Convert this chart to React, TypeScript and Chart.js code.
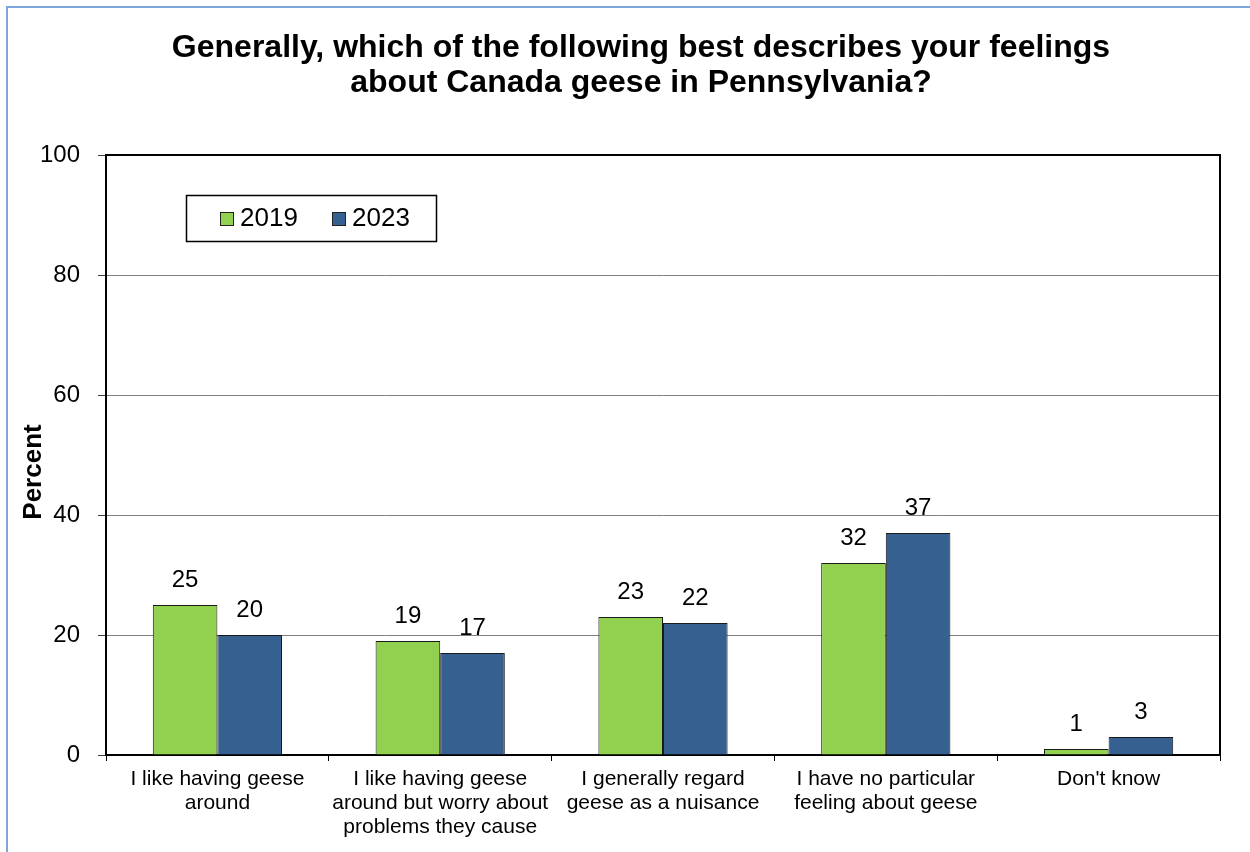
import React, { useEffect, useRef } from "react";
import { Chart, registerables } from "chart.js";

Chart.register(...registerables);

const TITLE_LINES = [
  "Generally, which of the following best describes your feelings",
  "about Canada geese in Pennsylvania?",
];
const Y_TITLE = "Percent";
const CATEGORIES: string[][] = [
  ["I like having geese", "around"],
  ["I like having geese", "around but worry about", "problems they cause"],
  ["I generally regard", "geese as a nuisance"],
  ["I have no particular", "feeling about geese"],
  ["Don't know"],
];
const SERIES_LABELS = ["2019", "2023"];
const VALUES_2019 = [25, 19, 23, 32, 1];
const VALUES_2023 = [20, 17, 22, 37, 3];
const Y_MIN = 0;
const Y_MAX = 100;
const Y_STEP = 20;

const GREEN = "#92D050";
const BLUE = "#36608F";
const FONT = '"Liberation Sans", Arial, sans-serif';

const decorPlugin = {
  id: "decor",
  afterDraw(chart: any) {
    const { ctx, chartArea } = chart;
    ctx.save();
    // plot border (top/right)
    ctx.strokeStyle = "#000";
    ctx.lineWidth = 2;
    ctx.beginPath();
    ctx.moveTo(chartArea.left, chartArea.top);
    ctx.lineTo(chartArea.right, chartArea.top);
    ctx.lineTo(chartArea.right, chartArea.bottom);
    ctx.stroke();

    // title
    ctx.fillStyle = "#000";
    ctx.font = `bold 32px ${FONT}`;
    ctx.textAlign = "center";
    ctx.textBaseline = "alphabetic";
    TITLE_LINES.forEach((t, i) => ctx.fillText(t, 641, 57 + i * 35));

    // y title
    ctx.save();
    ctx.translate(41, 472);
    ctx.rotate(-Math.PI / 2);
    ctx.font = `bold 26px ${FONT}`;
    ctx.textAlign = "center";
    ctx.textBaseline = "alphabetic";
    ctx.fillText(Y_TITLE, 0, 0);
    ctx.restore();

    // data labels
    ctx.font = `24px ${FONT}`;
    ctx.textAlign = "center";
    ctx.textBaseline = "alphabetic";
    chart.data.datasets.forEach((ds: any, di: number) => {
      const meta = chart.getDatasetMeta(di);
      meta.data.forEach((el: any, i: number) => {
        ctx.fillText(String(ds.data[i]), el.x, el.y - 18);
      });
    });

    // legend
    const bx = 186, by = 195, bw = 250, bh = 46;
    ctx.fillStyle = "#fff";
    ctx.fillRect(bx, by, bw, bh);
    ctx.strokeStyle = "#000";
    ctx.lineWidth = 1.5;
    ctx.strokeRect(bx + 0.5, by + 0.5, bw, bh);
    const xs = [220, 332];
    ctx.font = `26px ${FONT}`;
    ctx.textAlign = "left";
    ctx.textBaseline = "middle";
    chart.data.datasets.forEach((ds: any, di: number) => {
      const x = xs[di];
      ctx.fillStyle = ds.backgroundColor;
      ctx.fillRect(x, 212, 13, 13);
      ctx.strokeStyle = "#222";
      ctx.lineWidth = 1;
      ctx.strokeRect(x + 0.5, 212.5, 13, 13);
      ctx.fillStyle = "#000";
      ctx.fillText(ds.label, x + 20, 219);
    });
    ctx.restore();
  },
};

export default function App() {
  const ref = useRef<HTMLCanvasElement>(null);
  useEffect(() => {
    const chart = new Chart(ref.current as HTMLCanvasElement, {
      type: "bar",
      data: {
        labels: CATEGORIES,
        datasets: [
          {
            label: SERIES_LABELS[0],
            data: VALUES_2019,
            backgroundColor: GREEN,
            borderColor: "#1a1a1a",
            borderWidth: 1,
          },
          {
            label: SERIES_LABELS[1],
            data: VALUES_2023,
            backgroundColor: BLUE,
            borderColor: "#1a1a1a",
            borderWidth: 1,
          },
        ],
      },
      options: {
        responsive: false,
        animation: false,
        devicePixelRatio: 1,
        layout: { padding: { top: 155, right: 30, bottom: 0, left: 0 } },
        datasets: { bar: { categoryPercentage: 0.58, barPercentage: 1 } },
        plugins: {
          legend: { display: false },
          title: { display: false },
          tooltip: { enabled: false },
        },
        scales: {
          x: {
            afterFit: (s: any) => {
              s.height = 97;
            },
            grid: {
              display: true,
              drawOnChartArea: false,
              drawTicks: true,
              tickLength: 6,
              color: "#000",
              offset: true,
            },
            border: { display: true, color: "#000", width: 2 },
            ticks: {
              color: "#000",
              font: { family: FONT, size: 21, lineHeight: 1.15 },
              maxRotation: 0,
              minRotation: 0,
              autoSkip: false,
              padding: 6,
            },
          },
          y: {
            min: Y_MIN,
            max: Y_MAX,
            afterFit: (s: any) => {
              s.width = 106;
            },
            grid: {
              color: "#808080",
              lineWidth: 1,
              tickColor: "#444",
              tickLength: 8,
            },
            border: { display: true, color: "#000", width: 2 },
            ticks: {
              stepSize: Y_STEP,
              color: "#000",
              font: { family: FONT, size: 24 },
              padding: 18,
            },
          },
        },
      },
      plugins: [decorPlugin],
    } as any);
    return () => chart.destroy();
  }, []);
  return (
    <div
      style={{
        position: "fixed",
        left: 0,
        top: 0,
        width: 1250,
        height: 852,
        background: "#fff",
        overflow: "hidden",
      }}
    >
      <canvas
        ref={ref}
        width={1250}
        height={852}
        style={{ position: "absolute", left: 0, top: 0, width: 1250, height: 852 }}
      />
      <div
        style={{
          position: "absolute",
          left: 6,
          top: 6,
          width: 1250,
          height: 852,
          borderLeft: "2px solid #7EA6DA",
          borderTop: "2px solid #7EA6DA",
          pointerEvents: "none",
        }}
      />
    </div>
  );
}
